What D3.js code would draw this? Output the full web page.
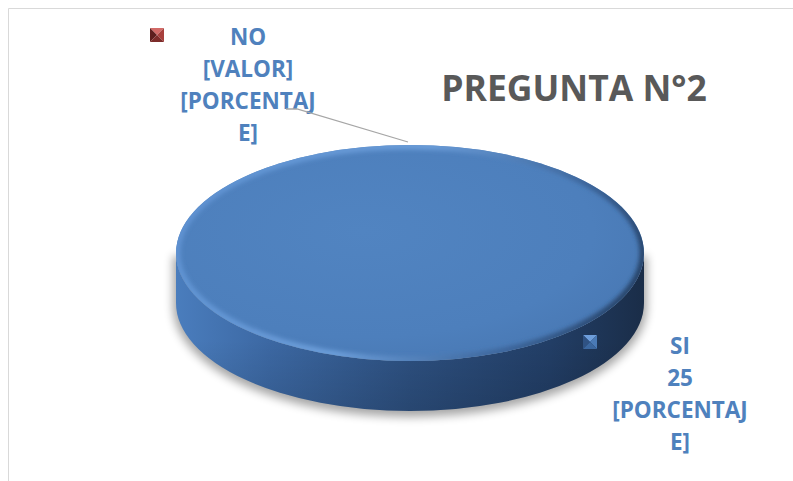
<!DOCTYPE html>
<html><head><meta charset="utf-8">
<script src="https://cdn.jsdelivr.net/npm/d3@7"></script>
<style>body{margin:0;background:#fff}svg{display:block}</style>
</head><body><svg id="c" width="793" height="481"></svg>
<script>
// ---- data ----
const categories = ["SI", "NO"];
const values = [25, 0];
const percentText = ["[PORCENTAJ", "E]"];
const emptyValueText = "[VALOR]";
const title = "PREGUNTA N°2";
const colors = ["#4f81bd", "#c0504d"];

// ---- layout ----
const W = 793, H = 481;
const cx = 410, cy = 253, rx = 234, ry = 108, depth = 50;
const svg = d3.select("#c");
const defs = svg.append("defs");

// frame
svg.append("path").attr("d", `M8.5,${H} L8.5,8.5 L${W},8.5`)
  .attr("fill", "none").attr("stroke", "#d9d9d9").attr("stroke-width", 1);

// filters & gradients
const blur = (id, s) => defs.append("filter").attr("id", id)
  .attr("x", "-20%").attr("y", "-20%").attr("width", "140%").attr("height", "140%")
  .append("feGaussianBlur").attr("stdDeviation", s);
blur("shadowBlur", 5);
blur("rimBlur", 2.2);

const sideGrad = defs.append("linearGradient").attr("id", "sideGrad")
  .attr("gradientUnits", "userSpaceOnUse")
  .attr("x1", cx - rx).attr("x2", cx + rx).attr("y1", 0).attr("y2", 0);
[[0, "#4a7dbd"], [0.2, "#3c68a3"], [0.5, "#2d5080"], [0.8, "#223e66"], [1, "#1a2d48"]]
  .forEach(([o, c]) => sideGrad.append("stop").attr("offset", o).attr("stop-color", c));

const sideShade = defs.append("linearGradient").attr("id", "sideShade")
  .attr("x1", 0).attr("x2", 0).attr("y1", 0).attr("y2", 1);
[[0, "#ffffff", 0.0], [0.55, "#000000", 0.0], [1, "#000000", 0.12]]
  .forEach(([o, c, a]) => sideShade.append("stop").attr("offset", o).attr("stop-color", c).attr("stop-opacity", a));

const topGrad = defs.append("radialGradient").attr("id", "topGrad")
  .attr("cx", "40%").attr("cy", "40%").attr("r", "70%");
[[0, "#5184c1"], [0.7, "#4d7fbc"], [1, "#4877b2"]]
  .forEach(([o, c]) => topGrad.append("stop").attr("offset", o).attr("stop-color", c));

const rimGrad = defs.append("linearGradient").attr("id", "rimGrad")
  .attr("gradientUnits", "userSpaceOnUse")
  .attr("x1", cx - rx).attr("x2", cx + rx).attr("y1", cy - ry).attr("y2", cy + ry);
[[0, "#5d90d0"], [0.45, "#6b9dd9"], [0.75, "#3c659a"], [1, "#1e3452"]]
  .forEach(([o, c]) => rimGrad.append("stop").attr("offset", o).attr("stop-color", c));

defs.append("clipPath").attr("id", "topClip").append("ellipse")
  .attr("cx", cx).attr("cy", cy).attr("rx", rx).attr("ry", ry);

// pie
const pie = d3.pie().sort(null).value(d => d)(values);
const arc = d3.arc().innerRadius(0).outerRadius(rx);
const pt = (a, dy = 0) => [cx + rx * Math.sin(a), cy - ry * Math.cos(a) + dy];

function sidePath(d) {
  const s = Math.max(d.startAngle, Math.PI / 2), e = Math.min(d.endAngle, 3 * Math.PI / 2);
  if (s >= e) return null;
  const p0 = pt(s), p1 = pt(e), q1 = pt(e, depth), q0 = pt(s, depth);
  const large = (e - s) > Math.PI ? 1 : 0;
  return `M${p0} A${rx},${ry} 0 ${large} 1 ${p1} L${q1} A${rx},${ry} 0 ${large} 0 ${q0} Z`;
}

// shadow
const shadowG = svg.append("g").attr("filter", "url(#shadowBlur)").attr("opacity", 0.35);
shadowG.append("ellipse").attr("cx", cx).attr("cy", cy + depth + 3).attr("rx", rx + 3).attr("ry", ry + 3).attr("fill", "#000");
shadowG.append("rect").attr("x", cx - rx - 3).attr("y", cy + 3).attr("width", 2 * rx + 6).attr("height", depth).attr("fill", "#000");

// sides
const slices = pie.filter(d => d.endAngle > d.startAngle);
svg.append("g").selectAll("path.side").data(slices).join("path")
  .attr("class", "side").attr("d", sidePath).attr("fill", "url(#sideGrad)");
svg.append("g").selectAll("path.sideShade").data(slices).join("path")
  .attr("d", sidePath).attr("fill", "url(#sideShade)");

// top
svg.append("g").attr("transform", `translate(${cx},${cy}) scale(1,${ry / rx})`)
  .selectAll("path").data(slices).join("path")
  .attr("d", arc).attr("fill", (d, i) => i === 0 ? "url(#topGrad)" : colors[d.index]);

// bevel rim
svg.append("g").attr("clip-path", "url(#topClip)")
  .append("ellipse").attr("cx", cx).attr("cy", cy).attr("rx", rx - 1).attr("ry", ry - 1)
  .attr("fill", "none").attr("stroke", "url(#rimGrad)").attr("stroke-width", 7)
  .attr("filter", "url(#rimBlur)");

// title
svg.append("text").attr("x", 574).attr("y", 101).attr("text-anchor", "middle")
  .attr("font-family", "'Open Sans', Lato, sans-serif").attr("font-weight", 700)
  .attr("font-size", 35.5).attr("fill", "#595959").text(title);

// labels
const labelPos = [{ x: 680, y: 354, mx: 590, my: 342 }, { x: 248, y: 45, mx: 157, my: 35 }];
const markerShades = [
  ["#6e9edb", "#2f5283", "#4a7ab6", "#3b679f"],
  ["#d26a67", "#5e1f1e", "#a8403d", "#7d2c2a"]
];
pie.forEach((d, i) => {
  const lp = labelPos[i];
  const lines = [categories[i], d.value > 0 ? String(d.value) : emptyValueText, ...percentText];
  const t = svg.append("text").attr("text-anchor", "middle")
    .attr("font-family", "'Open Sans', Lato, sans-serif").attr("font-weight", 700)
    .attr("font-size", 22.5).attr("fill", "#4f81bd");
  lines.forEach((l, k) => t.append("tspan").attr("x", lp.x).attr("y", lp.y + k * 32).text(l));
  // legend-key marker (pyramid)
  const s = 7, m = markerShades[i];
  const c = [lp.mx, lp.my];
  const tl = [c[0] - s, c[1] - s], tr = [c[0] + s, c[1] - s], br = [c[0] + s, c[1] + s], bl = [c[0] - s, c[1] + s];
  [[tl, tr], [tl, bl], [tr, br], [bl, br]].forEach(([a, b], k) =>
    svg.append("path").attr("d", `M${a}L${b}L${c}Z`).attr("fill", m[k]));
});

// leader line for NO
const top0 = pt(pie[1].startAngle);
svg.append("path").attr("d", `M286,109 L297,109 L${top0[0] - 2},${top0[1] - 3}`)
  .attr("fill", "none").attr("stroke", "#a6a6a6").attr("stroke-width", 1.3);
</script></body></html>
